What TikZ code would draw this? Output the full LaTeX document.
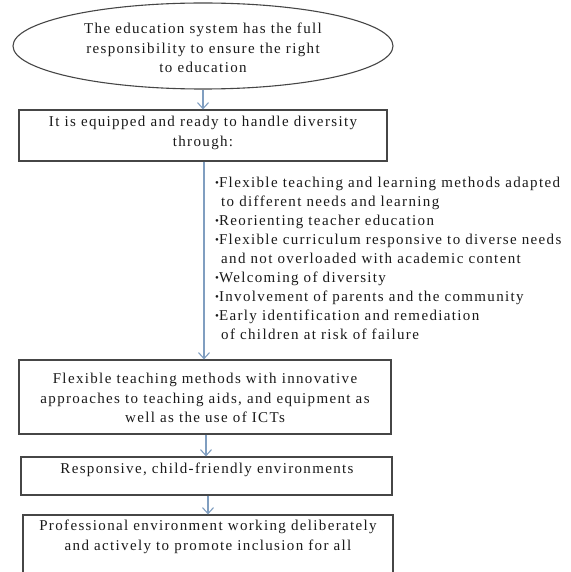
\documentclass[tikz,border=0pt]{standalone}
\usepackage{fontspec}
\setmainfont{Liberation Serif}[LetterSpace=9]
\usetikzlibrary{arrows.meta,shapes.geometric}
\definecolor{arrowblue}{RGB}{128,158,192}
\definecolor{framegray}{RGB}{70,70,70}
\definecolor{txt}{RGB}{25,25,25}
\tikzset{
  boxframe/.style={draw=framegray,line width=1.2pt,rectangle,inner sep=0pt},
  ovalframe/.style={draw=framegray,line width=1.1pt,ellipse,inner sep=0pt},
  label text/.style={text=txt,align=center,inner sep=0pt,font=\fontsize{15}{19.5}\selectfont},
  list text/.style={text=txt,align=left,inner sep=0pt,font=\fontsize{15}{19}\selectfont},
  flowarrow/.style={draw=arrowblue,line width=1.1pt,-{Straight Barb[length=6pt,width=11pt,line width=1.1pt]}},
  flowline/.style={draw=arrowblue,line width=1.1pt}
}
\newcommand{\bul}{{\fontsize{11}{11}\selectfont\raisebox{1.5pt}{\textbullet}}}
\begin{document}
\begin{tikzpicture}[x=1pt,y=-1pt]
\useasboundingbox (0,0) rectangle (570,572);
% shapes
\node[ovalframe,minimum width=380pt,minimum height=86pt] (oval) at (203,46) {};
\node[boxframe,minimum width=368pt,minimum height=51pt] (box1) at (203,135.5) {};
\node[boxframe,minimum width=372pt,minimum height=74pt] (box2) at (205,397) {};
\node[boxframe,minimum width=371pt,minimum height=38pt] (box3) at (206.5,476) {};
\node[boxframe,minimum width=370pt,minimum height=80pt] (box4) at (208,555) {};
% texts
\node[label text] (t0) at (203,48) {The education system has the full\\responsibility to ensure the right\\to education};
\node[label text] (t1) at (203,133) {It is equipped and ready to handle diversity\\through:};
\node[label text] (t2) at (205,398) {Flexible teaching methods with innovative\\approaches to teaching aids, and equipment as\\well as the use of ICTs};
\node[label text] (t3) at (207,470) {Responsive, child-friendly environments};
\node[label text] (t4) at (208,537) {Professional environment working deliberately\\and actively to promote inclusion for all};
\node[list text,anchor=north west] (list) at (215,177) {%
\bul Flexible teaching and learning methods adapted\\
\hspace*{6pt}to different needs and learning\\
\bul Reorienting teacher education\\
\bul Flexible curriculum responsive to diverse needs\\
\hspace*{6pt}and not overloaded with academic content\\
\bul Welcoming of diversity\\
\bul Involvement of parents and the community\\
\bul Early identification and remediation\\
\hspace*{6pt}of children at risk of failure};
% connectors
\draw[flowarrow] (oval.south) -- (box1.north);
\draw[flowarrow] (box1.south) ++(1,0) coordinate (l1) -- (l1 |- box2.north);
\draw[flowarrow] (box2.south) ++(1,0) coordinate (l2) -- (l2 |- box3.north);
\draw[flowarrow] (box3.south) ++(1.5,0) coordinate (l3) -- (l3 |- box4.north);
\end{tikzpicture}
\end{document}
